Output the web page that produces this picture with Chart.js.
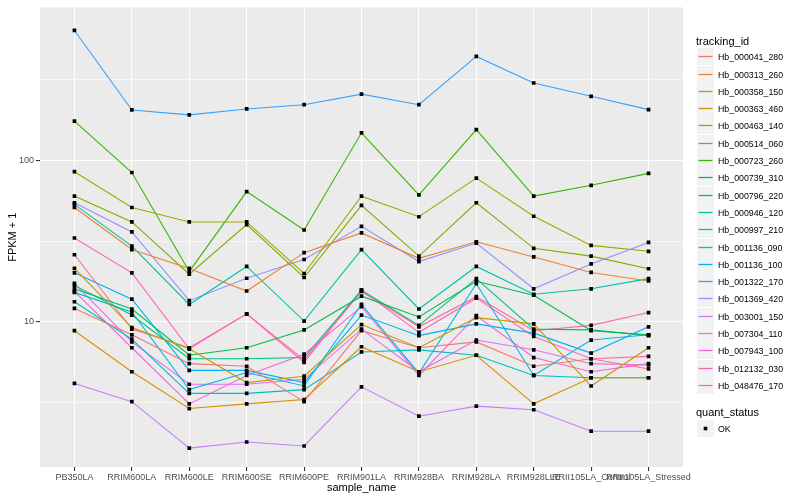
<!DOCTYPE html>
<html>
<head>
<meta charset="utf-8">
<script src="https://cdn.jsdelivr.net/npm/chart.js@4.4.1/dist/chart.umd.min.js"></script>
<style>
  body { margin: 0; background: #fff; font-family: "Liberation Sans", Arial, sans-serif; }
  #wrap { position: relative; width: 800px; height: 500px; }
  #chart { position: absolute; left: 0; top: 0; }
  #legend { position: absolute; left: 0; top: 0; width: 800px; height: 500px; color: #000; pointer-events: none; }
  .lg-title { position: absolute; left: 696px; font-size: 11px; height: 14px; line-height: 14px; }
  .lg-row { position: absolute; left: 697px; height: 17px; display: flex; align-items: center; font-size: 8.8px; }
  .lg-row svg { margin-right: 4px; flex: none; }
</style>
</head>
<body>
<div id="wrap">
  <canvas id="chart" width="800" height="500"></canvas>
  <div id="legend"></div>
</div>
<script>
// samples on the x axis
const categories = ['PB350LA', 'RRIM600LA', 'RRIM600LE', 'RRIM600SE', 'RRIM600PE', 'RRIM901LA',
    'RRIM928BA', 'RRIM928LA', 'RRIM928LLE', 'RRII105LA_Control', 'RRII105LA_Stressed'];

const trackingIds = ['Hb_000041_280', 'Hb_000313_260', 'Hb_000358_150', 'Hb_000363_460', 'Hb_000463_140',
    'Hb_000514_060', 'Hb_000723_260', 'Hb_000739_310', 'Hb_000796_220', 'Hb_000946_120',
    'Hb_000997_210', 'Hb_001136_090', 'Hb_001136_100', 'Hb_001322_170', 'Hb_001369_420',
    'Hb_003001_150', 'Hb_007304_110', 'Hb_007943_100', 'Hb_012132_030', 'Hb_048476_170'];

const colors = ['#F8766D', '#EA8331', '#D89000', '#C09B00', '#A3A500', '#7CAE00', '#39B600', '#00BB4E',
    '#00BF7D', '#00C1A3', '#00BFC4', '#00BAE0', '#00B0F6', '#35A2FF', '#9590FF', '#C77CFF',
    '#E76BF3', '#FA62DB', '#FF62BC', '#FF6C91'];

// FPKM + 1, one array per gene
const hb000041_280 = [12.1, 8.3, 5.5, 5.3, 3.2, 8.8, 6.9, 7.5, 5.3, 5.9, 5.1];
const hb000313_260 = [51, 28, 21.4, 15.5, 26.8, 35.5, 24.7, 31.3, 25.2, 20.2, 17.9];
const hb000358_150 = [8.8, 4.9, 2.9, 3.1, 3.3, 7.0, 4.9, 6.2, 3.1, 4.5, 4.5];
const hb000363_460 = [21.4, 9.2, 6.8, 4.2, 4.6, 9.6, 6.9, 10.6, 9.7, 4.0, 6.9];
const hb000463_140 = [85, 51, 41.5, 41.5, 19.9, 60, 44.7, 77.5, 45, 29.7, 27.3];
const hb000514_060 = [60, 41.5, 19.7, 40, 18.8, 52.6, 25.5, 54.6, 28.5, 25.5, 21.3];
const hb000723_260 = [175, 84, 20.5, 64, 37, 148, 61, 155, 60, 70, 83];
const hb000739_310 = [16.0, 12.0, 6.2, 6.9, 8.9, 14.4, 10.7, 17.8, 14.6, 8.8, 8.3];
const hb000796_220 = [16.8, 11.0, 5.9, 5.9, 6.0, 15.7, 9.5, 18.5, 9.0, 8.9, 8.2];
const hb000946_120 = [53.3, 29.4, 12.8, 22, 10.1, 28, 12.0, 22, 14.8, 16.0, 18.5];
const hb000997_210 = [13.3, 7.8, 3.6, 3.6, 3.8, 6.5, 6.7, 6.2, 4.65, 4.5, 4.5];
const hb001136_090 = [15.2, 11.5, 3.8, 4.85, 4.0, 12.8, 4.8, 17.2, 4.65, 7.7, 8.3];
const hb001136_100 = [20.1, 13.8, 5.0, 5.0, 4.2, 11.0, 8.2, 9.7, 8.5, 6.4, 9.3];
const hb001322_170 = [637, 205, 191, 208, 221, 257, 221, 440, 301, 249, 206];
const hb001369_420 = [54.5, 36, 13.5, 18.6, 24.3, 39, 23.6, 30.7, 16.0, 22.8, 31];
const hb003001_150 = [4.15, 3.2, 1.65, 1.8, 1.7, 3.95, 2.6, 3.0, 2.85, 2.1, 2.1];
const hb007304_110 = [17.3, 7.5, 4.1, 4.1, 4.4, 9.0, 4.9, 7.7, 6.7, 5.5, 5.4];
const hb007943_100 = [15.4, 6.9, 3.1, 4.65, 6.3, 12.4, 4.65, 10.9, 6.0, 4.9, 5.5];
const hb012132_030 = [33, 20.1, 6.8, 11.2, 5.6, 15.7, 8.6, 14.0, 8.1, 5.9, 6.1];
const hb048476_170 = [26, 9.0, 6.9, 11.2, 5.8, 15.4, 9.3, 14.3, 8.8, 9.5, 11.4];

const seriesValues = [hb000041_280, hb000313_260, hb000358_150, hb000363_460, hb000463_140,
    hb000514_060, hb000723_260, hb000739_310, hb000796_220, hb000946_120,
    hb000997_210, hb001136_090, hb001136_100, hb001322_170, hb001369_420,
    hb003001_150, hb007304_110, hb007943_100, hb012132_030, hb048476_170];

// y breaks (log10): labelled majors and the minor lines between them
const yMajorTicks = [10, 100];
const yMinorTicks = [3.162, 31.62, 316.2];
const yMin = 1.26;
const yMax = 885;

const panelBackground = {
    id: 'panelBackground',
    beforeDraw(chart) {
        const { ctx, chartArea: a } = chart;
        ctx.save();
        ctx.fillStyle = '#EBEBEB';
        ctx.fillRect(a.left, a.top, a.right - a.left, a.bottom - a.top);
        ctx.restore();
    }
};

const lineSets = seriesValues.map((vals, k) => ({
    type: 'line',
    label: trackingIds[k],
    data: vals.map((v, i) => ({ x: i, y: v })),
    borderColor: colors[k],
    backgroundColor: colors[k],
    borderWidth: 1.1,
    pointRadius: 0,
    tension: 0,
    order: 1
}));

const pointSet = {
    type: 'line',
    label: 'OK',
    data: seriesValues.flatMap(vals => vals.map((v, i) => ({ x: i, y: v }))),
    showLine: false,
    pointStyle: 'rect',
    pointRadius: 2.6,
    pointBackgroundColor: '#000',
    pointBorderWidth: 0,
    order: 0
};

const isMajor = v => yMajorTicks.includes(v);
const font = size => ({ family: '"Liberation Sans", Arial, sans-serif', size: size });

new Chart(document.getElementById('chart'), {
    type: 'line',
    data: { datasets: [...lineSets, pointSet] },
    options: {
        responsive: false,
        animation: false,
        layout: { padding: { top: 5, right: 117, bottom: 0, left: 0 } },
        plugins: { legend: { display: false }, tooltip: { enabled: false } },
        scales: {
            x: {
                type: 'linear',
                min: -0.6,
                max: 10.6,
                afterBuildTicks: s => { s.ticks = categories.map((c, i) => ({ value: i })); },
                afterFit: s => { s.height = 33; },
                ticks: {
                    callback: v => categories[v],
                    autoSkip: false,
                    maxRotation: 0,
                    color: '#4D4D4D',
                    font: font(9),
                    padding: 1
                },
                grid: { color: '#FFFFFF', lineWidth: 1.1, tickLength: 4, tickColor: '#333333' },
                border: { display: false },
                title: {
                    display: true,
                    text: 'sample_name',
                    color: '#000',
                    font: font(11),
                    padding: { top: 0, bottom: 5 }
                }
            },
            y: {
                type: 'logarithmic',
                min: yMin,
                max: yMax,
                afterBuildTicks: s => {
                    s.ticks = [...yMinorTicks, ...yMajorTicks].sort((a, b) => a - b).map(v => ({ value: v }));
                },
                afterFit: s => { s.width = 40; },
                ticks: {
                    callback: v => isMajor(v) ? String(v) : '',
                    autoSkip: false,
                    color: '#4D4D4D',
                    font: font(9),
                    padding: 2
                },
                grid: {
                    color: '#FFFFFF',
                    lineWidth: c => (c.tick && isMajor(c.tick.value)) ? 1.1 : 0.55,
                    tickLength: 4,
                    tickColor: c => (c.tick && isMajor(c.tick.value)) ? '#333333' : 'rgba(0,0,0,0)'
                },
                border: { display: false },
                title: {
                    display: true,
                    text: 'FPKM + 1',
                    color: '#000',
                    font: font(11),
                    padding: { top: 6, bottom: 0 }
                }
            }
        }
    },
    plugins: [panelBackground]
});

// ggplot-style legends on the right
const keySvg = inner => '<svg width="17" height="17" viewBox="0 0 17 17"><rect width="17" height="17" fill="#F2F2F2"/>' + inner + '</svg>';
const legend = document.getElementById('legend');
let html = '<div class="lg-title" style="top:34px">tracking_id</div>';
trackingIds.forEach((id, k) => {
    const top = Math.round(56.7 + 17.3 * k - 8.5);
    html += '<div class="lg-row" style="top:' + top + 'px">' +
        keySvg('<line x1="1.5" x2="15.5" y1="8.5" y2="8.5" stroke="' + colors[k] + '" stroke-width="1.3"/>') + id + '</div>';
});
html += '<div class="lg-title" style="top:405px">quant_status</div>';
html += '<div class="lg-row" style="top:420px">' + keySvg('<rect x="6.7" y="6.7" width="3.6" height="3.6" fill="#000"/>') + 'OK</div>';
legend.innerHTML = html;
</script>
</body>
</html>
